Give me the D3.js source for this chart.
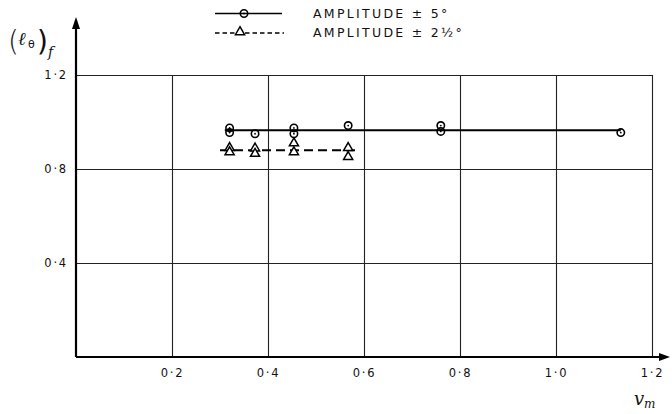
<!DOCTYPE html>
<html>
<head>
<meta charset="utf-8">
<script src="https://cdn.jsdelivr.net/npm/d3@7"></script>
<style>
  html, body { margin: 0; padding: 0; background: #fff; }
  svg { display: block; }
  .lab { font-family: "DejaVu Sans", sans-serif; fill: #111; }
</style>
</head>
<body>
<svg id="chart" width="672" height="414"></svg>
<script>
// Flutter derivative (l_theta)_f against reduced velocity v_m
const xTicks = [0.2, 0.4, 0.6, 0.8, 1.0, 1.2];
const yTicks = [0.4, 0.8, 1.2];

// amplitude ±5° (circles)
const ampFiveX = [0.32, 0.32, 0.373, 0.454, 0.454, 0.567, 0.76, 0.76, 1.135];
const ampFiveY = [0.975, 0.955, 0.95, 0.975, 0.95, 0.985, 0.985, 0.96, 0.955];
// amplitude ±2½° (triangles)
const ampHalfX = [0.32, 0.32, 0.373, 0.373, 0.454, 0.454, 0.567, 0.567];
const ampHalfY = [0.89, 0.872, 0.888, 0.865, 0.91, 0.872, 0.89, 0.852];

// mean lines through each set
const fiveLineX = [0.31, 1.135];
const fiveLineY = [0.965, 0.965];
const halfLineX = [0.30, 0.59];
const halfLineY = [0.88, 0.88];

const legendLabels = ["AMPLITUDE ± 5°", "AMPLITUDE ± 2½°"];

const svg = d3.select("#chart");
const x = d3.scaleLinear().domain([0, 1.2]).range([76, 652]);
const y = d3.scaleLinear().domain([0, 1.2]).range([357, 75]);
const fmt = d => d3.format(".1f")(d).replace(".", "·");

// grid via axes
const gx = svg.append("g")
  .attr("transform", `translate(0,${y(0)})`)
  .call(d3.axisBottom(x).tickValues(xTicks).tickSize(-(y(0) - y(1.2))).tickPadding(12).tickFormat(fmt));
const gy = svg.append("g")
  .attr("transform", `translate(${x(0)},0)`)
  .call(d3.axisLeft(y).tickValues(yTicks).tickSize(-(x(1.2) - x(0))).tickPadding(8).tickFormat(fmt));
[gx, gy].forEach(g => {
  g.select(".domain").remove();
  g.selectAll(".tick line").attr("stroke", "#222").attr("stroke-width", 1.1);
  g.selectAll(".tick text").attr("font-family", "DejaVu Sans, sans-serif")
    .attr("font-size", 11.5).attr("letter-spacing", 1.8).attr("fill", "#111");
});

// main axes with arrows
svg.append("line").attr("x1", x(0)).attr("x2", 666).attr("y1", y(0)).attr("y2", y(0))
  .attr("stroke", "#000").attr("stroke-width", 2.2);
svg.append("line").attr("x1", x(0)).attr("x2", x(0)).attr("y1", y(0)).attr("y2", 20)
  .attr("stroke", "#000").attr("stroke-width", 2.2);
svg.append("path").attr("d", `M670,${y(0)} L659,${y(0) - 4} L659,${y(0) + 4} Z`).attr("fill", "#000");
svg.append("path").attr("d", `M${x(0)},17 L${x(0) - 4},29 L${x(0) + 4},29 Z`).attr("fill", "#000");

// fitted lines
const line = d3.line().x(d => x(d[0])).y(d => y(d[1]));
svg.append("path").attr("d", line(d3.zip(fiveLineX, fiveLineY)))
  .attr("stroke", "#000").attr("stroke-width", 2).attr("fill", "none");
svg.append("path").attr("d", line(d3.zip(halfLineX, halfLineY)))
  .attr("stroke", "#000").attr("stroke-width", 2).attr("stroke-dasharray", "9,5").attr("fill", "none");

// markers
const tri = d3.symbol().type(d3.symbolTriangle).size(36);
function circleMark(g, cx, cy) {
  g.append("circle").attr("cx", cx).attr("cy", cy).attr("r", 3.7)
    .attr("fill", "none").attr("stroke", "#000").attr("stroke-width", 1.6);
  g.append("circle").attr("cx", cx).attr("cy", cy).attr("r", 0.9).attr("fill", "#000");
}
function triMark(g, cx, cy) {
  g.append("path").attr("d", tri()).attr("transform", `translate(${cx},${cy})`)
    .attr("fill", "#fff").attr("stroke", "#000").attr("stroke-width", 1.5);
}
const pts = svg.append("g");
d3.zip(ampHalfX, ampHalfY).forEach(([a, b]) => triMark(pts, x(a), y(b)));
d3.zip(ampFiveX, ampFiveY).forEach(([a, b]) => circleMark(pts, x(a), y(b)));

// legend
const lg = svg.append("g");
lg.append("line").attr("x1", 215).attr("x2", 282).attr("y1", 13.5).attr("y2", 13.5)
  .attr("stroke", "#000").attr("stroke-width", 1.5);
circleMark(lg, 244, 13.5);
lg.append("line").attr("x1", 215).attr("x2", 284).attr("y1", 33).attr("y2", 33)
  .attr("stroke", "#000").attr("stroke-width", 1.4).attr("stroke-dasharray", "4.5,3");
triMark(lg, 240, 32);
lg.selectAll("text.leg").data(legendLabels).join("text").attr("class", "lab")
  .attr("x", 313).attr("y", (d, i) => 18 + i * 19)
  .attr("font-size", 12.5).attr("letter-spacing", 2.3).text(d => d);

// axis titles
const yl = svg.append("text").attr("class", "lab").attr("y", 51);
yl.append("tspan").attr("x", 8).attr("font-size", 28).attr("font-weight", 300).text("(");
yl.append("tspan").attr("x", 18).attr("y", 45).attr("font-size", 18)
  .attr("font-family", "DejaVu Serif, serif").attr("font-style", "italic").text("ℓ");
yl.append("tspan").attr("x", 28).attr("y", 48).attr("font-size", 11).text("θ");
yl.append("tspan").attr("x", 37).attr("y", 51).attr("font-size", 28).text(")");
yl.append("tspan").attr("x", 48).attr("y", 57).attr("font-size", 14)
  .attr("font-family", "DejaVu Serif, serif").attr("font-style", "italic").text("f");

const xl = svg.append("text").attr("class", "lab").attr("y", 405);
xl.append("tspan").attr("x", 634).attr("font-size", 18)
  .attr("font-family", "DejaVu Serif, serif").attr("font-style", "italic").text("v");
xl.append("tspan").attr("x", 644).attr("y", 408).attr("font-size", 12)
  .attr("font-family", "DejaVu Serif, serif").attr("font-style", "italic").text("m");
</script>
</body>
</html>
